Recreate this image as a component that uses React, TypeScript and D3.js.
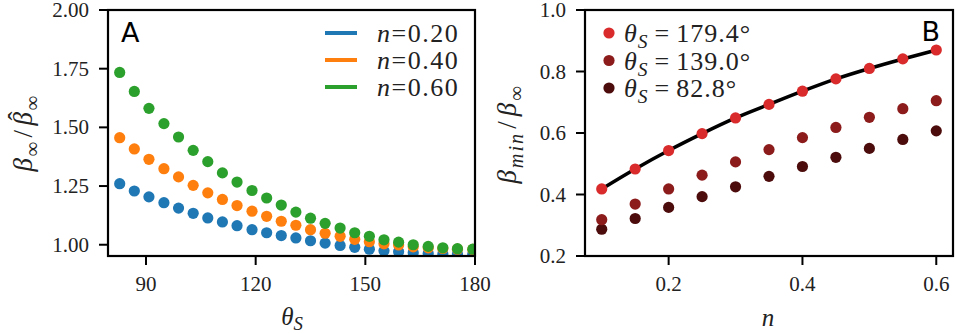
import * as d3 from 'd3'

// panel A: beta_inf / beta_hat_inf vs theta_S
const thetaS = [82.8, 86.8, 90.8, 94.9, 98.9, 102.9, 106.9, 110.9, 114.9, 119.0, 123.0, 127.0, 131.0, 135.0, 139.0, 143.1, 147.1, 151.1, 155.1, 159.1, 163.1, 167.2, 171.2, 175.2, 179.4]
const ratioN020 = [1.260, 1.229, 1.204, 1.179, 1.156, 1.134, 1.114, 1.097, 1.081, 1.064, 1.051, 1.039, 1.029, 1.017, 1.007, 0.997, 0.989, 0.981, 0.974, 0.970, 0.966, 0.963, 0.961, 0.960, 0.960]
const ratioN040 = [1.456, 1.408, 1.364, 1.324, 1.289, 1.253, 1.221, 1.193, 1.167, 1.143, 1.121, 1.100, 1.083, 1.064, 1.049, 1.036, 1.023, 1.013, 1.004, 0.999, 0.991, 0.987, 0.984, 0.981, 0.980]
const ratioN060 = [1.734, 1.653, 1.581, 1.516, 1.459, 1.402, 1.354, 1.306, 1.267, 1.231, 1.199, 1.169, 1.139, 1.113, 1.091, 1.071, 1.051, 1.036, 1.021, 1.011, 1.000, 0.993, 0.987, 0.983, 0.981]
const seriesA = [
  { label: '0.20', color: '#1f77b4', values: ratioN020 },
  { label: '0.40', color: '#ff7f0e', values: ratioN040 },
  { label: '0.60', color: '#2ca02c', values: ratioN060 },
]
const ticksAx = [90, 120, 150, 180]
const ticksAy = [1.0, 1.25, 1.5, 1.75, 2.0]

// panel B: beta_min / beta_inf vs n
const nValues = [0.1, 0.15, 0.2, 0.25, 0.3, 0.35, 0.4, 0.45, 0.5, 0.55, 0.6]
const minTheta1794 = [0.418, 0.483, 0.543, 0.598, 0.649, 0.693, 0.736, 0.776, 0.810, 0.841, 0.870]
const minTheta1390 = [0.318, 0.369, 0.418, 0.463, 0.506, 0.546, 0.585, 0.618, 0.651, 0.679, 0.705]
const minTheta828 = [0.287, 0.322, 0.358, 0.393, 0.425, 0.459, 0.491, 0.521, 0.550, 0.579, 0.607]
const seriesB = [
  { label: '179.4°', color: '#d92b2b', values: minTheta1794 },
  { label: '139.0°', color: '#8c1b1b', values: minTheta1390 },
  { label: '82.8°', color: '#4d0c0c', values: minTheta828 },
]
const ticksBx = [0.2, 0.4, 0.6]
const ticksBy = [0.2, 0.4, 0.6, 0.8, 1.0]

const SERIF = 'Liberation Serif'
const SANS = 'DejaVu Sans'
const INK = '#222'
const TOP = 10
const BOTTOM = 256
const R = 5.6

const xA = d3.scaleLinear().domain([79.6, 180]).range([108, 475])
const yA = d3.scaleLinear().domain([0.952, 2.0]).range([BOTTOM, TOP])
const xB = d3.scaleLinear().domain([0.075, 0.625]).range([585, 953])
const yB = d3.scaleLinear().domain([0.2, 1.0]).range([BOTTOM, TOP])

function Frame({ x, y, xt, yt, xf, yf, id, children }: any) {
  const [x0, x1] = x.range()
  return (
    <g>
      <clipPath id={id}>
        <rect x={x0} y={TOP} width={x1 - x0} height={BOTTOM - TOP} />
      </clipPath>
      <g clipPath={`url(#${id})`}>{children}</g>
      {xt.map((t: number) => (
        <g key={'x' + t} transform={`translate(${x(t)},${BOTTOM})`}>
          <line y2={9} stroke="#000" strokeWidth={2} />
          <text y={35} textAnchor="middle" fill={INK} style={{ fontFamily: SERIF, fontSize: 21 }}>{xf(t)}</text>
        </g>
      ))}
      {yt.map((t: number) => (
        <g key={'y' + t} transform={`translate(${x0},${y(t)})`}>
          <line x2={-9} stroke="#000" strokeWidth={2} />
          <text x={-19} y={7} textAnchor="end" fill={INK} style={{ fontFamily: SERIF, fontSize: 21 }}>{yf(t)}</text>
        </g>
      ))}
      <rect x={x0} y={TOP} width={x1 - x0} height={BOTTOM - TOP} fill="none" stroke="#000" strokeWidth={2.2} />
    </g>
  )
}

const it = { fontStyle: 'italic' as const }
const sub = (s: number, italic = false) => ({ fontSize: s * 0.75, fontStyle: italic ? 'italic' as const : 'normal' as const })

export default function App() {
  const lineB = d3.line<number>().x((_d, i) => xB(nValues[i])).y((d) => yB(d)).curve(d3.curveMonotoneX)
  const fs = 27
  const lg = 26
  return (
    <svg width={955} height={334} style={{ position: 'absolute', left: 0, top: 0, background: '#fff' }}>
      {/* panel A */}
      <Frame x={xA} y={yA} xt={ticksAx} yt={ticksAy} xf={d3.format('d')} yf={d3.format('.2f')} id="clipA">
        {seriesA.map((s) => (
          <g key={s.label}>
            {s.values.map((v, i) => (
              <circle key={i} cx={xA(thetaS[i])} cy={yA(v)} r={R} fill={s.color} />
            ))}
          </g>
        ))}
      </Frame>
      <text x={121} y={42} style={{ fontFamily: SANS, fontSize: 27 }}>A</text>
      {seriesA.map((s, i) => (
        <g key={s.label} transform={`translate(0,${33 + i * 27})`}>
          <line x1={325} x2={357} stroke={s.color} strokeWidth={4} />
          <text x={377} y={9} fill={INK} style={{ fontFamily: SERIF, fontSize: lg, letterSpacing: 1.5 }}>
            <tspan style={it}>n</tspan>={s.label}
          </text>
        </g>
      ))}
      <text transform="translate(32,133) rotate(-90)" textAnchor="middle" fill={INK}
        style={{ fontFamily: SERIF, fontSize: fs, letterSpacing: 1.5 }}>
        <tspan style={it}>β</tspan>
        <tspan dy={7} style={sub(fs)}>∞</tspan>
        <tspan dx={3} dy={-7}>/</tspan>
        <tspan dx={3} style={it}>β</tspan>
        <tspan dy={7} style={sub(fs)}>∞</tspan>
        <tspan dx={-26} dy={-12}>ˆ</tspan>
      </text>
      <text x={292} y={325} textAnchor="middle" fill={INK} style={{ fontFamily: SERIF, fontSize: 25 }}>
        <tspan style={it}>θ</tspan>
        <tspan dy={5} style={sub(25, true)}>S</tspan>
      </text>

      {/* panel B */}
      <Frame x={xB} y={yB} xt={ticksBx} yt={ticksBy} xf={d3.format('.1f')} yf={d3.format('.1f')} id="clipB">
        <path d={lineB(minTheta1794) ?? ''} fill="none" stroke="#000" strokeWidth={3.6} />
        {[...seriesB].reverse().map((s) => (
          <g key={s.label}>
            {s.values.map((v, i) => (
              <circle key={i} cx={xB(nValues[i])} cy={yB(v)} r={R} fill={s.color} />
            ))}
          </g>
        ))}
      </Frame>
      <text x={940} y={41} textAnchor="end" style={{ fontFamily: SANS, fontSize: 27 }}>B</text>
      {seriesB.map((s, i) => (
        <g key={s.label} transform={`translate(0,${33 + i * 27.5})`}>
          <circle cx={609} cy={0} r={R} fill={s.color} />
          <text x={624} y={9} fill={INK} style={{ fontFamily: SERIF, fontSize: lg, letterSpacing: 1 }}>
            <tspan style={it}>θ</tspan>
            <tspan dy={6} style={sub(lg, true)}>S</tspan>
            <tspan dx={6} dy={-6}>=</tspan>
            <tspan dx={6}>{s.label}</tspan>
          </text>
        </g>
      ))}
      <text transform="translate(516,134) rotate(-90)" textAnchor="middle" fill={INK}
        style={{ fontFamily: SERIF, fontSize: fs, letterSpacing: 2 }}>
        <tspan style={it}>β</tspan>
        <tspan dy={7} style={sub(fs, true)}>min</tspan>
        <tspan dx={3} dy={-7}>/</tspan>
        <tspan dx={3} style={it}>β</tspan>
        <tspan dy={7} style={sub(fs)}>∞</tspan>
      </text>
      <text x={768} y={326} textAnchor="middle" fill={INK} style={{ fontFamily: SERIF, fontSize: 25, fontStyle: 'italic' }}>n</text>
    </svg>
  )
}
